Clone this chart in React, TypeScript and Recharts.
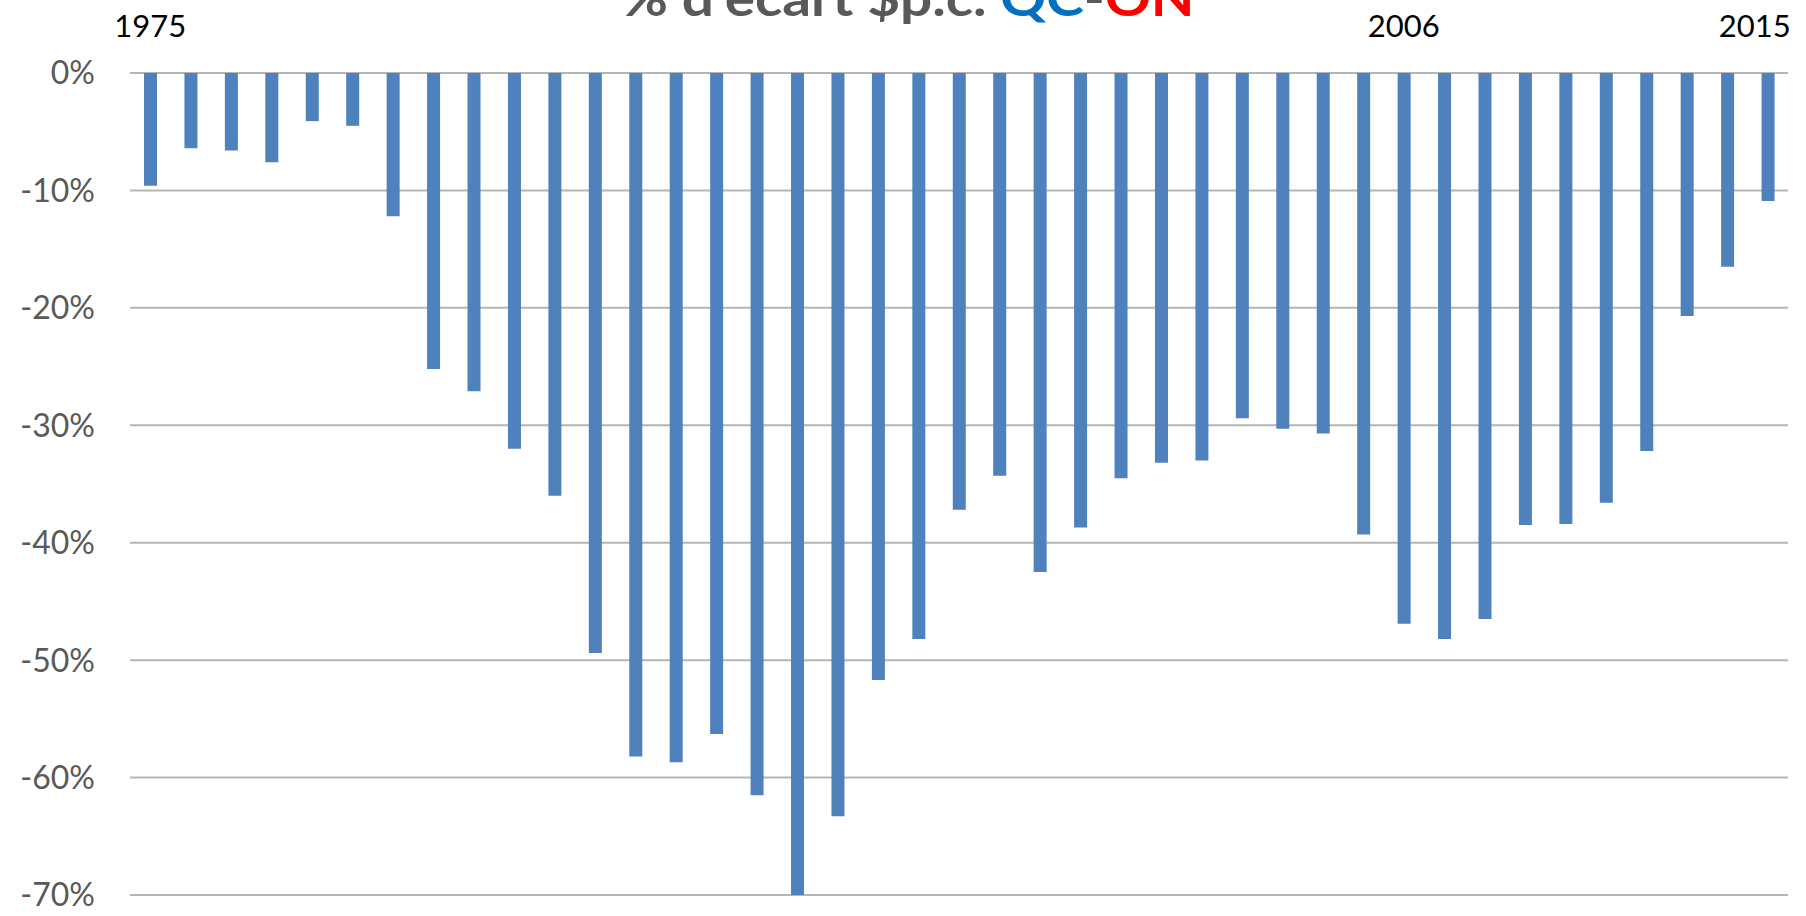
import { BarChart, Bar, XAxis, YAxis, CartesianGrid } from 'recharts';

// années 1975 à 2015
const YEARS = [
  1975, 1976, 1977, 1978, 1979, 1980, 1981, 1982, 1983, 1984,
  1985, 1986, 1987, 1988, 1989, 1990, 1991, 1992, 1993, 1994,
  1995, 1996, 1997, 1998, 1999, 2000, 2001, 2002, 2003, 2004,
  2005, 2006, 2007, 2008, 2009, 2010, 2011, 2012, 2013, 2014,
  2015,
];

// % d'écart QC-ON
const ECART = [
  -9.6, -6.4, -6.6, -7.6, -4.1, -4.5, -12.2, -25.2, -27.1, -32.0,
  -36.0, -49.4, -58.2, -58.7, -56.3, -61.5, -70.0, -63.3, -51.7, -48.2,
  -37.2, -34.3, -42.5, -38.7, -34.5, -33.2, -33.0, -29.4, -30.3, -30.7,
  -39.3, -46.9, -48.2, -46.5, -38.5, -38.4, -36.6, -32.2, -20.7, -16.5,
  -10.9,
];

const SHOWN_YEARS = [1975, 2006, 2015];
const Y_TICKS = [0, -10, -20, -30, -40, -50, -60, -70];

const data = YEARS.map((year, i) => ({ year, ecart: ECART[i] }));

const FONT = 'Lato, "Open Sans", sans-serif';

// étiquette d'année en haut; la dernière est collée au bord droit comme dans Excel
function YearTick(props: any) {
  const { x, y, payload } = props;
  const year = Number(payload.value);
  if (!SHOWN_YEARS.includes(year)) return null;
  const last = year === YEARS[YEARS.length - 1];
  return (
    <text
      x={last ? x + 23 : x}
      y={y}
      textAnchor={last ? 'end' : 'middle'}
      fill="#000"
      fontSize={31}
      fontFamily={FONT}
    >
      {year}
    </text>
  );
}

export default function App() {
  return (
    <div style={{ position: 'absolute', top: 0, left: 0, width: 1806, height: 916, background: '#fff' }}>
      <BarChart
        width={1806}
        height={916}
        data={data}
        margin={{ top: 0, right: 18, bottom: 21, left: 0 }}
      >
        <CartesianGrid vertical={false} stroke="#b5b5b5" strokeWidth={2} />
        <XAxis
          dataKey="year"
          orientation="top"
          height={73}
          interval={0}
          axisLine={false}
          tickLine={false}
          tickSize={0}
          tickMargin={36}
          tick={<YearTick />}
        />
        <YAxis
          width={130}
          domain={[-70, 0]}
          ticks={Y_TICKS}
          interval={0}
          axisLine={false}
          tickLine={false}
          tickSize={0}
          tickMargin={35}
          tick={{ fill: '#595959', fontSize: 32, fontFamily: FONT }}
          tickFormatter={(v) => `${v}%`}
        />
        <Bar dataKey="ecart" fill="#4f81bd" barSize={13} isAnimationActive={false} />
      </BarChart>
      <svg
        width={1806}
        height={60}
        style={{ position: 'absolute', top: 0, left: 0, overflow: 'visible' }}
      >
        <text
          x={908}
          y={16}
          textAnchor="middle"
          fontFamily={FONT}
          fontWeight="bold"
          fontSize={50}
          textLength={573}
          lengthAdjust="spacingAndGlyphs"
          fill="#595959"
        >
          % d'écart $p.c. <tspan fill="#0070c0">QC</tspan>-<tspan fill="#ff0000">ON</tspan>
        </text>
      </svg>
    </div>
  );
}
